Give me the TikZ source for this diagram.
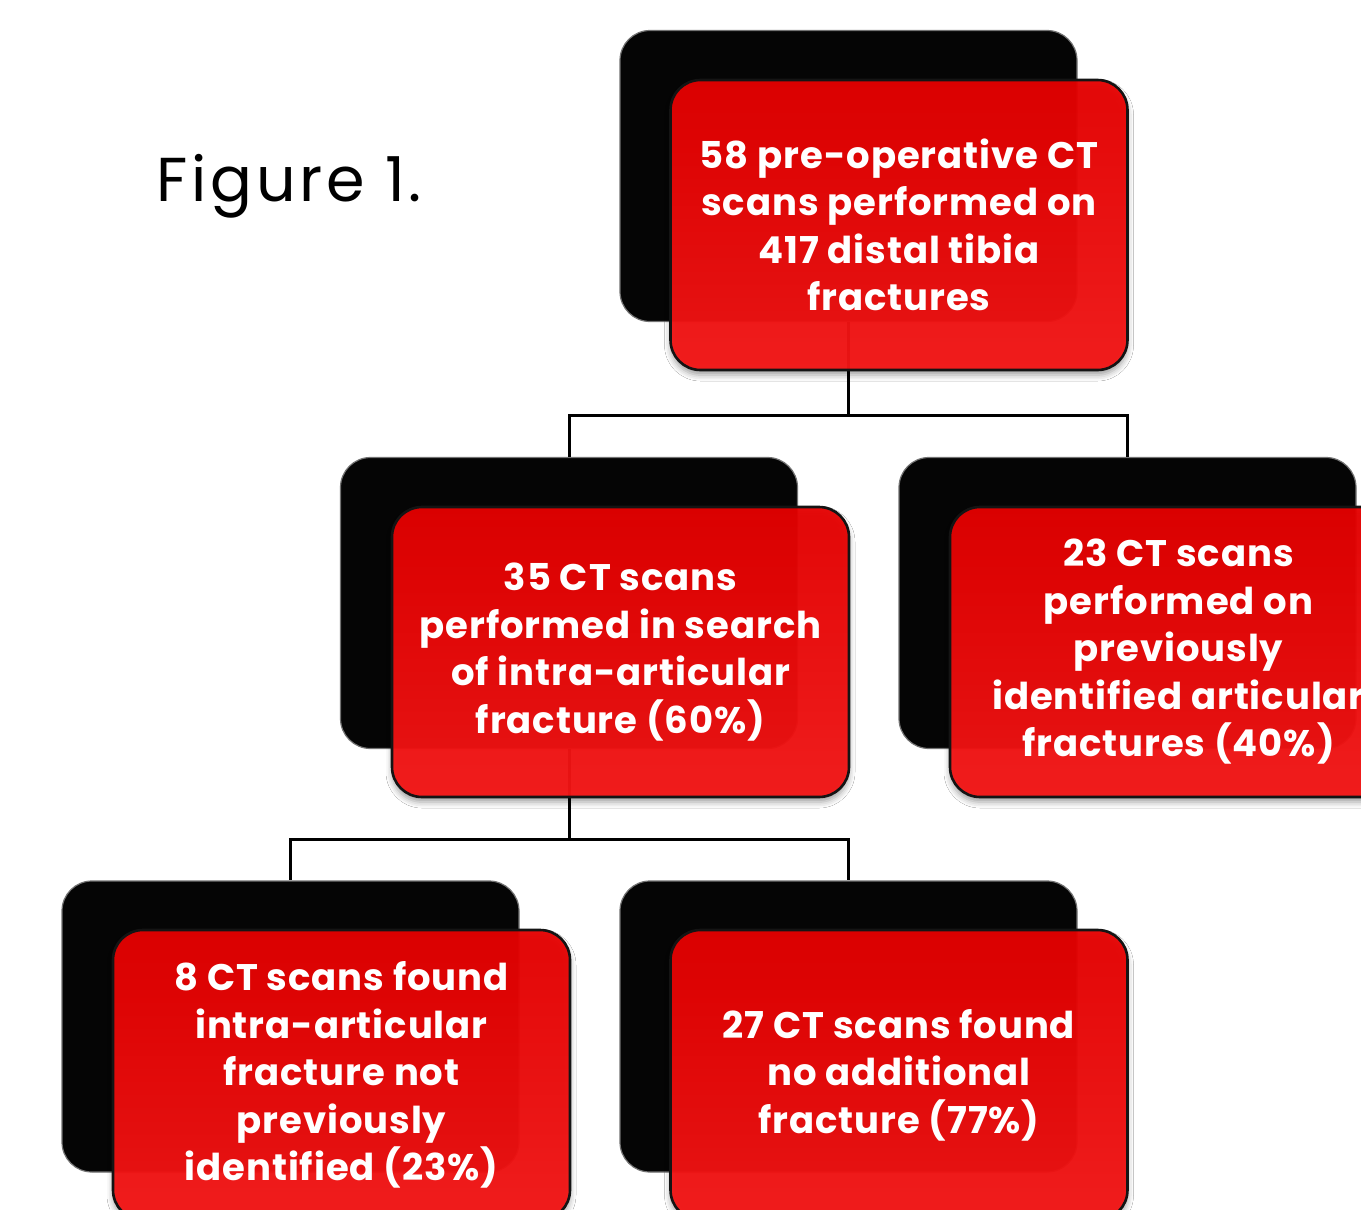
\documentclass[tikz,border=0pt]{standalone}
\usepackage{fontspec}
\setmainfont{Poppins}
\usetikzlibrary{shadows.blur}
\definecolor{boxredtop}{HTML}{E60000}
\definecolor{boxredbot}{HTML}{F51616}
\begin{document}
\begin{tikzpicture}[x=1pt,y=-1pt,
  backbox/.style={fill=black!98, draw=black!55, line width=1.2pt, rounded corners=30pt,
    minimum width=457pt, minimum height=291pt, inner sep=0pt},
  frontbox/.style={draw=black!92, line width=2.6pt, rounded corners=30pt,
    top color=boxredtop, bottom color=boxredbot, fill opacity=0.95, draw opacity=1, text opacity=1,
    text=white, align=center, minimum width=457pt, minimum height=290pt, inner sep=0pt,
    font=\fontsize{37}{47.5}\selectfont\bfseries\addfontfeatures{LetterSpace=2.5},
    blur shadow={shadow xshift=0pt, shadow yshift=-5pt, shadow blur radius=6pt, shadow opacity=40}},
  link/.style={line width=3pt, draw=black}]
\useasboundingbox (0,0) rectangle (1361,1210);
\fill[white] (0,0) rectangle (1361,1210);

\node[anchor=base west, font=\fontsize{62}{62}\selectfont\addfontfeatures{LetterSpace=6}] (fig) at (153,201) {Figure 1.};

% back boxes
\node[backbox] (b1) at (848.5,176) {};
\node[backbox] (b2) at (569,603) {};
\node[backbox] (b3) at (1127.5,603) {};
\node[backbox] (b4) at (290.5,1026.5) {};
\node[backbox] (b5) at (848.5,1026.5) {};

% connectors
\draw[link] (b1.south) -- ++(0,93) coordinate (j1) -| (b2.north);
\draw[link] (j1) -| (b3.north);
\draw[link] (b2.south) -- ++(0,90) coordinate (j2) -| (b4.north);
\draw[link] (j2) -| (b5.north);

% front boxes
\node[frontbox] (r1) at (899,225) {58 pre-operative CT\\scans performed on\\417 distal tibia\\fractures};
\node[frontbox] (r2) at (620.5,652) {35 CT scans\\performed in search\\of intra-articular\\fracture (60\%)};
\node[frontbox] (r3) at (1178.5,652) {23 CT scans\\performed on\\previously\\identified articular\\fractures (40\%)};
\node[frontbox] (r4) at (341.5,1075) {8 CT scans found\\intra-articular\\fracture not\\previously\\identified (23\%)};
\node[frontbox] (r5) at (899,1075) {27 CT scans found\\no additional\\fracture (77\%)};
\end{tikzpicture}
\end{document}
